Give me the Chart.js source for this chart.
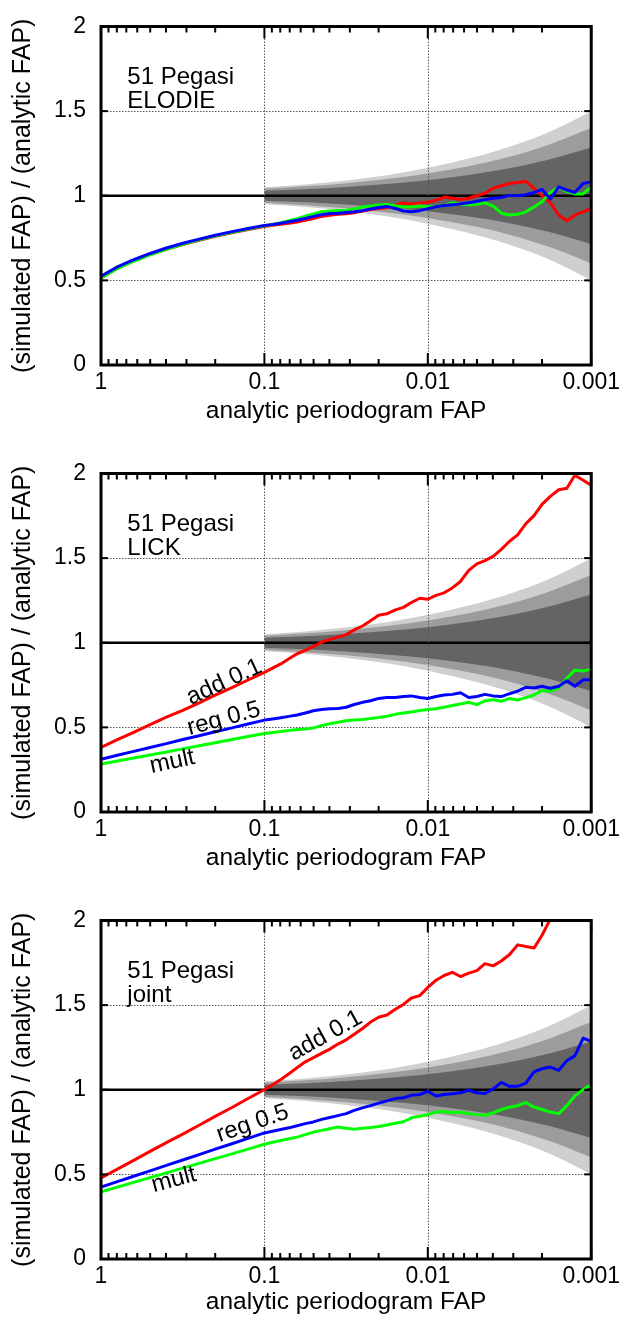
<!DOCTYPE html>
<html>
<head>
<meta charset="utf-8">
<script src="https://cdn.jsdelivr.net/npm/chart.js@4.4.1/dist/chart.umd.min.js"></script>
<style>
  html, body { margin: 0; padding: 0; background: #fff; overflow: hidden; }
  canvas { display: block; }
</style>
</head>
<body>
<canvas id="elodie" width="626" height="447"></canvas>
<canvas id="lick" width="626" height="447"></canvas>
<canvas id="joint" width="626" height="426"></canvas>
<script>
"use strict";

// Simulated / analytic false-alarm probability for 51 Pegasi, three data sets.
// Values on a grid of analytic FAP (10 per decade above 0.1,
// 20 per decade below it).

const FAP = [1, 0.794, 0.631, 0.501, 0.398, 0.316, 0.251, 0.200, 0.158, 0.126, 0.1,
  0.0891, 0.0794, 0.0708, 0.0631, 0.0562, 0.0501, 0.0447, 0.0398, 0.0355,
  0.0316, 0.0282, 0.0251, 0.0224, 0.0200, 0.0178, 0.0158, 0.0141, 0.0126, 0.0112,
  0.01, 0.00891, 0.00794, 0.00708, 0.00631, 0.00562, 0.00501, 0.00447, 0.00398, 0.00355,
  0.00316, 0.00282, 0.00251, 0.00224, 0.00200, 0.00178, 0.00158, 0.00141, 0.00126, 0.00112,
  0.001];

const ELODIE_RED = [0.515, 0.572, 0.615, 0.652, 0.684, 0.712, 0.737, 0.760, 0.781, 0.800, 0.818,
  0.826, 0.832, 0.838, 0.845, 0.855, 0.866, 0.878, 0.885, 0.890,
  0.893, 0.899, 0.909, 0.918, 0.924, 0.929, 0.945, 0.957, 0.950, 0.957,
  0.962, 0.973, 0.992, 0.985, 0.977, 0.985, 1.000, 1.015, 1.044, 1.059,
  1.072, 1.078, 1.085, 1.044, 1.000, 0.960, 0.885, 0.852, 0.885, 0.905,
  0.925];
const ELODIE_GREEN = [0.515, 0.570, 0.613, 0.651, 0.684, 0.713, 0.739, 0.763, 0.784, 0.804, 0.822,
  0.830, 0.840, 0.852, 0.865, 0.880, 0.893, 0.905, 0.910, 0.913,
  0.915, 0.922, 0.934, 0.939, 0.945, 0.949, 0.941, 0.934, 0.935, 0.939,
  0.935, 0.935, 0.943, 0.958, 0.951, 0.947, 0.949, 0.958, 0.939, 0.897,
  0.886, 0.890, 0.905, 0.934, 0.964, 1.020, 1.049, 1.025, 1.011, 1.011,
  1.053];
const ELODIE_BLUE = [0.525, 0.580, 0.622, 0.659, 0.691, 0.719, 0.744, 0.767, 0.788, 0.807, 0.825,
  0.830, 0.838, 0.846, 0.855, 0.866, 0.878, 0.888, 0.895, 0.897,
  0.901, 0.905, 0.912, 0.922, 0.930, 0.937, 0.925, 0.910, 0.905, 0.912,
  0.924, 0.935, 0.943, 0.947, 0.952, 0.958, 0.967, 0.977, 0.985, 0.990,
  1.002, 1.000, 1.006, 1.019, 1.038, 0.980, 1.053, 1.034, 1.019, 1.072,
  1.082];

const LICK_RED = [0.382, 0.427, 0.471, 0.516, 0.560, 0.600, 0.645, 0.690, 0.735, 0.780, 0.825,
  0.850, 0.875, 0.905, 0.935, 0.955, 0.978, 1.004, 1.020, 1.033,
  1.048, 1.076, 1.099, 1.130, 1.162, 1.171, 1.194, 1.209, 1.238, 1.263,
  1.257, 1.280, 1.295, 1.324, 1.362, 1.428, 1.466, 1.485, 1.510, 1.552,
  1.600, 1.637, 1.704, 1.751, 1.818, 1.865, 1.904, 1.913, 1.990, 1.960,
  1.930];
const LICK_GREEN = [0.283, 0.301, 0.319, 0.337, 0.355, 0.373, 0.391, 0.409, 0.428, 0.446, 0.464,
  0.470, 0.475, 0.482, 0.487, 0.490, 0.497, 0.510, 0.522, 0.530,
  0.539, 0.543, 0.547, 0.553, 0.558, 0.566, 0.577, 0.585, 0.591, 0.600,
  0.606, 0.610, 0.619, 0.629, 0.638, 0.648, 0.635, 0.657, 0.663, 0.654,
  0.671, 0.662, 0.676, 0.691, 0.718, 0.714, 0.733, 0.790, 0.838, 0.833,
  0.844];
const LICK_BLUE = [0.312, 0.335, 0.358, 0.381, 0.404, 0.428, 0.451, 0.474, 0.497, 0.520, 0.543,
  0.550, 0.557, 0.565, 0.573, 0.585, 0.598, 0.605, 0.610, 0.612,
  0.619, 0.635, 0.648, 0.657, 0.671, 0.676, 0.676, 0.682, 0.686, 0.676,
  0.671, 0.682, 0.691, 0.695, 0.705, 0.676, 0.682, 0.695, 0.686, 0.682,
  0.699, 0.714, 0.737, 0.733, 0.743, 0.731, 0.743, 0.776, 0.743, 0.781,
  0.781];

const JOINT_RED = [0.479, 0.531, 0.583, 0.636, 0.688, 0.738, 0.790, 0.843, 0.895, 0.948, 1.000,
  1.030, 1.060, 1.095, 1.130, 1.165, 1.190, 1.215, 1.240, 1.270,
  1.295, 1.328, 1.362, 1.400, 1.428, 1.442, 1.476, 1.504, 1.542, 1.556,
  1.605, 1.647, 1.675, 1.694, 1.669, 1.689, 1.704, 1.745, 1.732, 1.761,
  1.799, 1.856, 1.846, 1.837, 1.913, 2.008, 2.050, null, null, null,
  null];
const JOINT_GREEN = [0.397, 0.425, 0.453, 0.481, 0.509, 0.537, 0.565, 0.593, 0.621, 0.649, 0.678,
  0.690, 0.700, 0.710, 0.720, 0.735, 0.750, 0.760, 0.770, 0.780,
  0.773, 0.767, 0.773, 0.777, 0.783, 0.792, 0.802, 0.811, 0.834, 0.843,
  0.853, 0.868, 0.872, 0.864, 0.868, 0.859, 0.853, 0.849, 0.864, 0.883,
  0.897, 0.906, 0.925, 0.897, 0.883, 0.868, 0.859, 0.906, 0.963, 1.001,
  1.029];
const JOINT_BLUE = [0.425, 0.457, 0.489, 0.521, 0.553, 0.585, 0.617, 0.649, 0.681, 0.713, 0.745,
  0.755, 0.765, 0.775, 0.787, 0.800, 0.810, 0.825, 0.836, 0.847,
  0.859, 0.878, 0.893, 0.906, 0.921, 0.934, 0.948, 0.953, 0.967, 0.972,
  0.991, 0.963, 0.972, 0.976, 0.982, 0.997, 0.982, 0.978, 1.005, 1.043,
  1.020, 1.020, 1.039, 1.105, 1.124, 1.134, 1.115, 1.172, 1.200, 1.305,
  1.286];

// Grey confidence bands around 1 (half widths), same in all three panels.
const BAND_FAP = [0.1, 0.0562, 0.0316, 0.0178, 0.01, 0.00562, 0.00316, 0.00178, 0.001];
const BAND_DARK = [0.030, 0.039, 0.052, 0.070, 0.092, 0.123, 0.162, 0.215, 0.285];
const BAND_MID = [0.042, 0.056, 0.074, 0.099, 0.132, 0.175, 0.230, 0.305, 0.400];
const BAND_LIGHT = [0.050, 0.067, 0.090, 0.121, 0.165, 0.220, 0.290, 0.380, 0.500];

const X_TICKS = [1, 0.1, 0.01, 0.001];
const X_TICK_LABELS = ["1", "0.1", "0.01", "0.001"];
const Y_TICKS = [0, 0.5, 1, 1.5, 2];
const Y_TICK_LABELS = ["0", "0.5", "1", "1.5", "2"];
const X_GRID = [0.1, 0.01];
const Y_GRID = [0.5, 1.5];

const FONT = '"Liberation Sans", Arial, Helvetica, sans-serif';
Chart.defaults.font.family = FONT;
Chart.defaults.color = "#000";

function pts(ys) {
  return FAP.map((x, i) => ({ x, y: ys[i] }));
}

function bandPts(half, sign) {
  return BAND_FAP.map((x, i) => ({ x, y: 1 + sign * half[i] }));
}

function line(ctx, x1, y1, x2, y2) {
  ctx.beginPath();
  ctx.moveTo(x1, y1);
  ctx.lineTo(x2, y2);
  ctx.stroke();
}

// dotted grid, drawn over the bands but under the curves
function drawGrid(chart) {
  const { ctx, chartArea: a, scales: { x, y } } = chart;
  ctx.save();
  ctx.strokeStyle = "#555";
  ctx.lineWidth = 1;
  ctx.setLineDash([1.5, 1.5]);
  X_GRID.forEach((v) => {
    const px = Math.round(x.getPixelForValue(v)) + 0.5;
    line(ctx, px, a.top, px, a.bottom);
  });
  Y_GRID.forEach((v) => {
    const py = Math.round(y.getPixelForValue(v)) + 0.5;
    line(ctx, a.left, py, a.right, py);
  });
  ctx.restore();
}

// gnuplot style box with inward ticks on all four sides
function drawFrame(chart) {
  const { ctx, chartArea: a, scales: { x, y } } = chart;
  ctx.save();
  ctx.strokeStyle = "#000";
  ctx.lineWidth = 2;
  const xTick = (v, len) => {
    const px = x.getPixelForValue(v);
    line(ctx, px, a.bottom, px, a.bottom - len);
    line(ctx, px, a.top, px, a.top + len);
  };
  X_TICKS.forEach((dec, i) => {
    xTick(dec, 12);
    if (i === X_TICKS.length - 1) return;
    for (let m = 2; m <= 9; m++) xTick(dec * m / 10, 6);
  });
  Y_TICKS.forEach((v) => {
    const py = y.getPixelForValue(v);
    line(ctx, a.left, py, a.left + 7, py);
    line(ctx, a.right, py, a.right - 7, py);
  });
  ctx.lineWidth = 3;
  ctx.strokeRect(a.left, a.top, a.right - a.left, a.bottom - a.top);
  ctx.restore();
}

function drawTexts(chart, texts) {
  const { ctx, scales: { x, y } } = chart;
  texts.forEach((t) => {
    ctx.save();
    ctx.translate(x.getPixelForValue(t.x), y.getPixelForValue(t.y));
    ctx.rotate(-(t.angle || 0) * Math.PI / 180);
    ctx.font = "24px " + FONT;
    ctx.fillStyle = "#000";
    ctx.textAlign = t.align || "center";
    ctx.textBaseline = t.baseline || "middle";
    ctx.fillText(t.text, 0, 0);
    ctx.restore();
  });
}

const fapFrame = {
  id: "fapFrame",
  afterDatasetDraw(chart, args) {
    if (chart.data.datasets[args.index].unity) drawGrid(chart);
  },
  afterDatasetsDraw(chart, args, opts) {
    drawFrame(chart);
    drawTexts(chart, opts.texts || []);
  },
};

function band(half, color, order) {
  const common = { borderWidth: 0, borderColor: "transparent", pointRadius: 0,
    cubicInterpolationMode: "monotone", order };
  return [
    Object.assign({ data: bandPts(half, 1), fill: "+1", backgroundColor: color }, common),
    Object.assign({ data: bandPts(half, -1), fill: false }, common),
  ];
}

function curve(ys, color, order) {
  return { data: pts(ys), borderColor: color, borderWidth: 3, pointRadius: 0,
    fill: false, tension: 0, order, borderJoinStyle: "round" };
}

function makePanel(id, height, titlePad, red, green, blue, texts) {
  const datasets = [
    ...band(BAND_LIGHT, "#cfcfcf", 7),
    ...band(BAND_MID, "#9c9c9c", 6),
    ...band(BAND_DARK, "#646464", 5),
    { data: [{ x: 1, y: 1 }, { x: 0.001, y: 1 }], borderColor: "#000", borderWidth: 2.5,
      pointRadius: 0, fill: false, order: 4, unity: true },
    curve(red, "#ff0000", 3),
    curve(green, "#00ff00", 2),
    curve(blue, "#0000ff", 1),
  ];

  return new Chart(document.getElementById(id), {
    type: "line",
    data: { datasets },
    plugins: [fapFrame],
    options: {
      responsive: false,
      animation: false,
      events: [],
      layout: { padding: { top: 14, right: 34, bottom: 0, left: 0 } },
      plugins: {
        legend: { display: false },
        tooltip: { enabled: false },
        fapFrame: { texts },
      },
      scales: {
        x: {
          type: "logarithmic",
          reverse: true,
          min: 0.001,
          max: 1,
          grid: { display: false, drawTicks: false },
          border: { display: false },
          afterBuildTicks: (s) => { s.ticks = X_TICKS.map((v) => ({ value: v })); },
          afterFit: (s) => { s.height = height - 365; },
          ticks: {
            autoSkip: false, maxRotation: 0, padding: 6,
            font: { size: 23, lineHeight: 1 },
            callback: (v) => X_TICK_LABELS[X_TICKS.indexOf(v)],
          },
          title: { display: true, text: "analytic periodogram FAP",
            font: { size: 24.5 }, padding: { top: 0, bottom: titlePad } },
        },
        y: {
          type: "linear",
          min: 0,
          max: 2,
          grid: { display: false, drawTicks: false },
          border: { display: false },
          afterBuildTicks: (s) => { s.ticks = Y_TICKS.map((v) => ({ value: v })); },
          afterFit: (s) => { s.width = 101; },
          ticks: {
            padding: 15,
            font: { size: 23, lineHeight: 1 },
            callback: (v) => Y_TICK_LABELS[Y_TICKS.indexOf(v)],
          },
          title: { display: true, text: "(simulated FAP) / (analytic FAP)",
            font: { size: 25 }, padding: { top: 8, bottom: 0 } },
        },
      },
    },
  });
}

const NAME = (line2) => [
  { text: "51 Pegasi", x: 0.69, y: 1.66, align: "left", baseline: "alphabetic" },
  { text: line2, x: 0.69, y: 1.52, align: "left", baseline: "alphabetic" },
];

makePanel("elodie", 447, 21, ELODIE_RED, ELODIE_GREEN, ELODIE_BLUE, NAME("ELODIE"));

makePanel("lick", 447, 21, LICK_RED, LICK_GREEN, LICK_BLUE, NAME("LICK").concat([
  { text: "add 0.1", x: 0.176, y: 0.767, angle: 25 },
  { text: "reg 0.5", x: 0.177, y: 0.55, angle: 15 },
  { text: "mult", x: 0.366, y: 0.296, angle: 12 },
]));

makePanel("joint", 426, 3, JOINT_RED, JOINT_GREEN, JOINT_BLUE, NAME("joint").concat([
  { text: "add 0.1", x: 0.0423, y: 1.319, angle: 29 },
  { text: "reg 0.5", x: 0.118, y: 0.80, angle: 19 },
  { text: "mult", x: 0.358, y: 0.467, angle: 15 },
]));
</script>
</body>
</html>
